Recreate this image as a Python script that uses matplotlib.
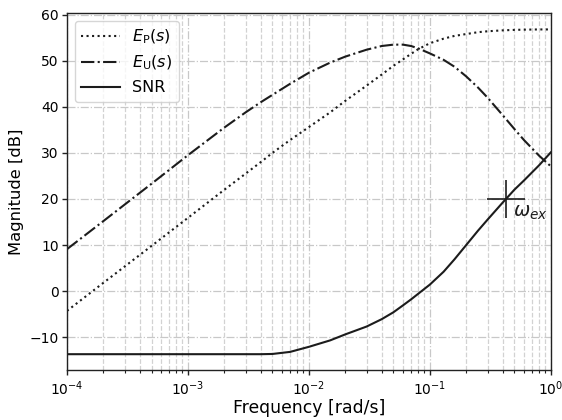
import numpy as np
import matplotlib
matplotlib.use("Agg")
import matplotlib.pyplot as plt

# Data
freq = [1e-4, 2e-4, 5e-4, 1e-3, 2e-3, 3e-3, 4e-3, 5e-3, 7e-3, 1e-2, 1.5e-2,
        2e-2, 3e-2, 4e-2, 5e-2, 6e-2, 7e-2, 8e-2, 1e-1, 0.13, 0.16, 0.2,
        0.25, 0.3, 0.4, 0.5, 0.6, 0.8, 1.0]
ep = [-4.3, 1.8, 9.8, 15.9, 22.0, 25.5, 28.0, 30.0, 32.8, 35.6, 38.8,
      41.3, 44.6, 47.0, 48.9, 50.3, 51.5, 52.5, 53.8, 54.8, 55.4, 55.8,
      56.2, 56.4, 56.6, 56.7, 56.75, 56.8, 56.8]
eu = [9.1, 15.2, 23.3, 29.5, 35.5, 38.8, 41.0, 42.6, 45.0, 47.4, 49.6,
      50.9, 52.4, 53.2, 53.5, 53.5, 53.2, 52.7, 51.6, 50.2, 48.7, 46.6,
      44.2, 42.0, 38.2, 35.2, 32.8, 29.4, 27.1]
snr = [-13.7, -13.7, -13.7, -13.7, -13.7, -13.7, -13.7, -13.65, -13.2, -12.1, -10.7,
       -9.4, -7.7, -6.1, -4.6, -3.1, -1.8, -0.6, 1.4, 4.2, 6.9, 10.0,
       13.1, 15.5, 19.2, 22.0, 24.0, 27.3, 30.1]
w_ex = 0.43
snr_ex = 20.0

col = "#1c1c1c"
fig = plt.figure(figsize=(5.62, 4.2), dpi=100)
ax = fig.add_axes([0.1192, 0.1183, 0.8608, 0.8500])

ax.semilogx(freq, ep, linestyle=":", color=col, lw=1.5, label=r"$E_{\mathrm{P}}(s)$")
ax.semilogx(freq, eu, linestyle="-.", color=col, lw=1.5, label=r"$E_{\mathrm{U}}(s)$")
ax.semilogx(freq, snr, linestyle="-", color=col, lw=1.5, label="SNR")
ax.plot([w_ex], [snr_ex], marker="+", ms=27, mew=1.2, color=col, linestyle="none")
ax.text(0.49, 17.0, r"$\omega_{ex}$", fontsize=14, ha="left", va="center", color=col)

ax.set_xlim(1e-4, 1.0)
ax.set_ylim(-17.2, 60.3)
ax.set_yticks([-10, 0, 10, 20, 30, 40, 50, 60])

ax.grid(True, which="major", linestyle="-.", color="#c8c8c8", lw=0.9)
ax.grid(True, which="minor", axis="x", linestyle="--", color="#d2d2d2", lw=0.9)
ax.set_axisbelow(True)

ax.tick_params(which="major", direction="out", length=3.3, width=1, labelsize=10, color="#222222")
ax.tick_params(which="minor", direction="out", length=2.2, width=0.8, color="#222222")
ax.tick_params(axis="y", pad=2.5)
for s in ax.spines.values():
    s.set_color("#222222")
    s.set_linewidth(1.0)

ax.set_xlabel("Frequency [rad/s]", fontsize=12.4, labelpad=0.5)
ax.set_ylabel("Magnitude [dB]", fontsize=11.8)

leg = ax.legend(loc="upper left", fontsize=11.5, frameon=True, handlelength=2.4)
leg.get_frame().set_edgecolor("#cccccc")

fig.savefig("out.png", dpi=100)
